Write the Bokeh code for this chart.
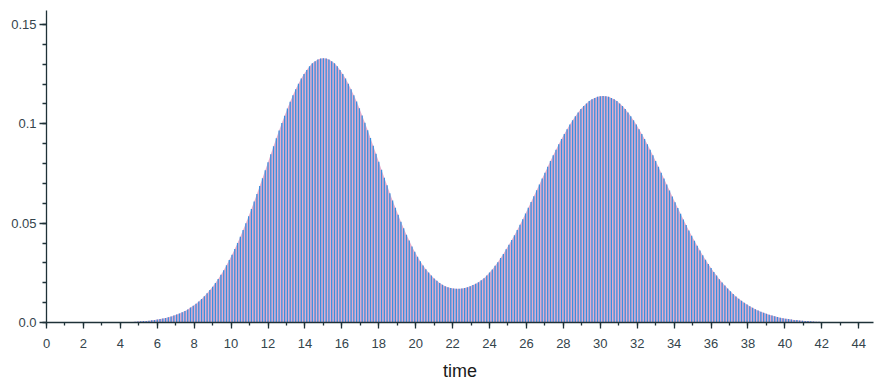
from bokeh.plotting import figure
from bokeh.models import SingleIntervalTicker, FixedTicker, ColumnDataSource, Range1d
from bokeh.embed import file_html
from bokeh.resources import INLINE

# sample spacing of the stems (time units)
step = 0.15
# stem heights in units of 1e-4, one per sample (time = i * step)
values_e4 = [
    0, 0, 0, 0, 0, 0, 0, 0, 0, 0, 0, 0, 0, 0, 0, 0, 0, 0, 0, 0,
    0, 1, 1, 1, 1, 1, 1, 2, 2, 2, 3, 3, 4, 5, 6, 7, 8, 9, 11, 13,
    15, 17, 20, 23, 26, 30, 35, 40, 45, 52, 58, 66, 75, 84, 94, 106, 118, 132, 147, 163,
    180, 199, 219, 240, 263, 288, 314, 341, 370, 400, 432, 465, 499, 535, 571, 609, 647, 687, 726, 766,
    807, 847, 887, 927, 966, 1004, 1041, 1077, 1111, 1143, 1174, 1202, 1228, 1251, 1271, 1289, 1304, 1315, 1323, 1328,
    1330, 1328, 1323, 1315, 1304, 1289, 1271, 1251, 1228, 1202, 1174, 1144, 1112, 1078, 1042, 1005, 967, 929, 889, 849,
    809, 769, 729, 691, 651, 614, 577, 542, 507, 474, 442, 412, 383, 356, 331, 308, 287, 268, 251, 236,
    222, 210, 199, 190, 182, 177, 173, 171, 170, 170, 171, 174, 178, 183, 189, 195, 203, 212, 223, 236,
    251, 267, 285, 303, 324, 345, 368, 391, 415, 439, 466, 492, 520, 549, 577, 606, 635, 665, 695, 725,
    754, 784, 813, 841, 869, 897, 923, 949, 973, 996, 1018, 1038, 1057, 1074, 1089, 1102, 1114, 1123, 1130, 1136,
    1139, 1140, 1139, 1136, 1130, 1123, 1114, 1102, 1089, 1074, 1057, 1038, 1018, 996, 973, 949, 923, 897, 869, 841,
    813, 784, 754, 724, 694, 664, 634, 605, 576, 547, 518, 490, 463, 436, 411, 386, 362, 338, 316, 294,
    274, 254, 236, 218, 201, 186, 171, 157, 144, 131, 120, 109, 100, 90, 82, 74, 67, 60, 54, 49,
    44, 39, 35, 31, 28, 24, 22, 19, 17, 15, 13, 12, 10, 9, 8, 7, 6, 5, 4, 4,
    3, 3, 2, 2, 2, 2, 1, 1, 1, 1, 1, 1, 0, 0, 0, 0, 0, 0, 0, 0,
]
time = [round(i * step, 2) for i in range(len(values_e4))]
prob = [v / 10000.0 for v in values_e4]
zeros = [0.0] * len(prob)

y_ticks = [0.0, 0.05, 0.1, 0.15]
y_tick_labels = ["0.0", "0.05", "0.1", "0.15"]

src = ColumnDataSource(dict(t=time, p=prob, z=zeros))

p = figure(width=874, height=383, output_backend="svg", toolbar_location=None,
           x_range=Range1d(0, 44.8), y_range=Range1d(0, 0.157),
           min_border_left=46, min_border_right=1, min_border_top=10, min_border_bottom=40)
p.outline_line_color = None
p.xgrid.visible = False
p.ygrid.visible = False
p.background_fill_color = "white"

p.varea(x="t", y1="z", y2="p", source=src, fill_color="#e3a6c8", fill_alpha=0.9)
p.segment(x0="t", y0="z", x1="t", y1="p", source=src, line_color="#3a8ede", line_width=1.3)

axis_col = "#1f3238"
label_col = "#34444c"
for ax in (p.xaxis[0], p.yaxis[0]):
    ax.axis_line_color = axis_col
    ax.axis_line_width = 1.3
    ax.major_tick_line_color = axis_col
    ax.minor_tick_line_color = axis_col
    ax.major_tick_line_width = 1.3
    ax.minor_tick_line_width = 1.3
    ax.major_label_text_font = "Liberation Sans"
    ax.major_label_text_font_size = "13px"
    ax.major_label_text_color = label_col
    ax.major_tick_in = 0
    ax.minor_tick_in = 0
    ax.major_tick_out = 6
    ax.minor_tick_out = 3

p.xaxis.ticker = SingleIntervalTicker(interval=2, num_minor_ticks=2)
p.xaxis.major_label_standoff = 10
p.xaxis.axis_label = "time"
p.xaxis.axis_label_text_font = "Liberation Sans"
p.xaxis.axis_label_text_font_style = "normal"
p.xaxis.axis_label_text_font_size = "18px"
p.xaxis.axis_label_text_color = "#1a1a1a"
p.xaxis.axis_label_standoff = 10

p.yaxis.ticker = FixedTicker(ticks=y_ticks, minor_ticks=[i / 100 for i in range(16)])
p.yaxis.major_label_overrides = {t: s for t, s in zip(y_ticks, y_tick_labels)}
p.yaxis.major_label_standoff = 3
p.yaxis.major_tick_out = 7
p.yaxis.minor_tick_out = 4

open("out.html", "w").write(file_html(p, INLINE))
